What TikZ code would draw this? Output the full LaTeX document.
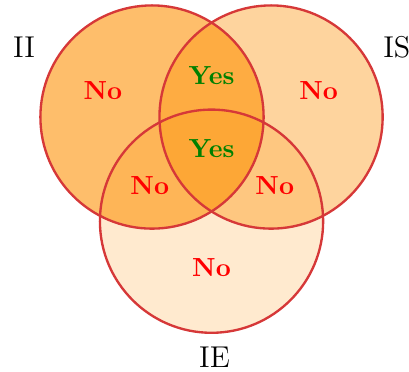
\documentclass[tikz,border=0pt]{standalone}
\usepackage{xcolor}
\definecolor{vbase}{RGB}{253,143,0}
\definecolor{vline}{RGB}{214,56,56}
\definecolor{vno}{RGB}{255,0,0}
\definecolor{vyes}{RGB}{0,128,0}
\begin{document}
\begin{tikzpicture}[
  ring/.style={draw=vline, line width=0.9pt},
  notext/.style={text=vno, font=\bfseries},
  yestext/.style={text=vyes, font=\bfseries},
  setlabel/.style={font=\fontsize{11.5pt}{14pt}\selectfont}
]
\useasboundingbox (-2.043,-3.414) rectangle (3.454,1.573);
\fill[vbase, fill opacity=0.58] (0,0) circle (1.5);
\fill[vbase, fill opacity=0.38] (1.6,0) circle (1.5);
\fill[vbase, fill opacity=0.19] (0.8,-1.4) circle (1.5);
\draw[ring] (0,0) circle (1.5);
\draw[ring] (1.6,0) circle (1.5);
\draw[ring] (0.8,-1.4) circle (1.5);
\node[setlabel] (lII) at (-1.72,0.94) {II};
\node[setlabel] (lIS) at (3.29,0.94) {IS};
\node[setlabel] (lIE) at (0.84,-3.23) {IE};
\node[notext] (n1) at (-0.66,0.36) {No};
\node[yestext] (y1) at (0.8,0.56) {Yes};
\node[notext] (n2) at (2.24,0.36) {No};
\node[yestext] (y2) at (0.8,-0.42) {Yes};
\node[notext] (n3) at (-0.03,-0.92) {No};
\node[notext] (n4) at (1.65,-0.92) {No};
\node[notext] (n5) at (0.8,-2.03) {No};
\end{tikzpicture}
\end{document}
